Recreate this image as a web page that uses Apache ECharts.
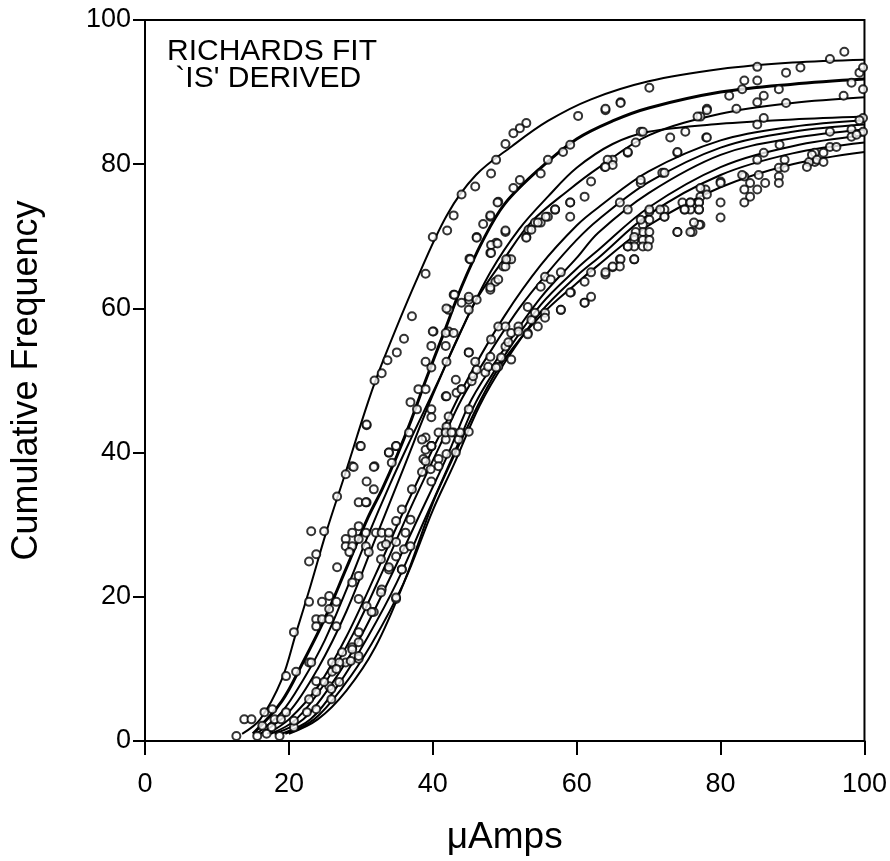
<!DOCTYPE html>
<html>
<head>
<meta charset="utf-8">
<script src="https://cdn.jsdelivr.net/npm/echarts@6/dist/echarts.min.js"></script>
<style>html,body{margin:0;padding:0;background:#fff;}#c{width:890px;height:861px;}</style>
</head>
<body>
<div id="c"></div>
<script>
var xTicks = [0, 20, 40, 60, 80, 100];
var yTicks = [0, 20, 40, 60, 80, 100];
var xTitle = 'μAmps';
var yTitle = 'Cumulative Frequency';
var noteLines = ['RICHARDS FIT', " `IS' DERIVED"];

var fit1 = [[13.5,1],[16,3],[19,8.5],[21,15],[23,21.5],[25.2,29],[27.8,37],[31,47],[33,52.5],[37.6,63.6],[42,73],[46,78.5],[51,82.5],[56,86],[62,89],[70,91.5],[80,93.2],[90,94.1],[100,94.5]];
var fit2 = [[15,1],[19,5.5],[22,11],[25,17],[28,24],[31,31],[33,35],[35,39.5],[37,44.5],[39,50],[41.5,56.5],[44,63],[47,69.5],[50,74.5],[55,79.5],[60,83.5],[65,86],[70,87.8],[80,90],[90,91.1],[100,91.8]];
var fit3 = [[15.5,1],[19,4],[22,8.5],[25,14],[28,21],[31,28.5],[34,35.5],[37,42],[40.8,50],[43.5,56],[46.3,61.6],[50,67],[53.7,72],[59,76.5],[63,79.5],[70,84],[80,87],[90,88.5],[100,89.3]];
var fit4 = [[16,1],[20,4],[24,10],[28,18],[32,28],[36,38],[40,48],[44,57],[48,65],[52,71],[56,75.5],[60,79.5],[65,82.8],[70,84.5],[80,85.6],[90,86.2],[100,86.6]];
var fit5 = [[17,1],[20,3],[24,7.5],[28,14.5],[32,23],[36,32],[40,40.5],[42,44.5],[45,50.5],[50,59],[55,66],[60,71.5],[63,74],[70,79],[80,83.3],[90,85.2],[100,86.1]];
var fit6 = [[17.5,1],[21,3],[25,8],[29,15],[33,23.5],[37,32.5],[41,41],[44,47.4],[48,54],[52,60],[56,65],[60,69.5],[63,72.3],[70,77.5],[80,82.3],[90,84.5],[100,85.5]];
var fit7 = [[18,1],[22,3],[26,8],[30,14.5],[34,22.5],[38,31],[42,39.5],[45.4,47.4],[50,54.5],[55,61.5],[60,67],[63,70.5],[70,76],[80,81.3],[90,83.6],[100,84.8]];
var fit8 = [[19,1],[23,3],[27,8],[31,14.5],[35,22],[39,31],[43,40],[46,47],[50,53.5],[55,60.5],[60,65.5],[63,68.1],[70,74],[80,79.6],[90,82.5],[100,84]];
var fit9 = [[19.5,1],[23.5,3],[27.5,7.5],[31.5,13.5],[36,22],[40,32],[43,38.5],[46.5,46.5],[50,52.5],[55,59.5],[60,64.5],[63,67],[70,73],[80,78.5],[90,81.5],[100,83]];
var fit10 = [[20,1],[24,3],[28,7],[32,13],[36,22],[40,33],[42,37.5],[46.7,47.4],[50,53],[55,59],[60,63.5],[63,66],[70,71.5],[80,76.8],[90,80],[100,81.7]];

var ptsUpper = [[97.2,95.6],[95.2,94.6],[91.1,93.4],[85.1,93.5],[89.1,92.7],[83.3,91.6],[85.1,91.6],[83,90.4],[88.1,90.4],[81.2,89.5],[86,89.5],[85.1,88.6],[89.1,88.5],[82.2,87.7],[78.1,87.7],[77.2,86.6],[97.1,89.5],[98.2,91.3],[99.3,92.7],[99.8,93.4],[99.8,90.4],[86,86.4],[85.1,85.5],[78,83.7],[95.2,84.5],[99.8,86.4],[99.8,84.5],[99.3,86.1],[98.2,84.8],[98.2,83.8],[88.2,82.7],[86,81.6],[85.1,80.6],[95.2,82.4],[96.1,82.4],[94.3,81.6],[93.1,81.6],[93.1,80.3],[92.3,80.3],[98.9,84.1],[92.7,81.3],[93.4,80.6],[94.3,80.3],[92,79.6],[88.9,80.6],[88.1,79.5],[88.9,79.5],[88.1,78.3],[88.1,77.4],[85.3,78.5],[83.3,78.3],[84.1,77.4],[83.3,76.5],[85.1,76.5],[86.2,77.4],[84.1,75.5],[83.3,74.7],[80,77.6],[80,74.7],[80,72.6],[77.9,76.5],[77.2,75.5],[77,74.7],[77,73.7],[77.2,71.6]];
var ptsMidRight = [[70.1,90.6],[64,87.5],[66.1,88.6],[78.1,87.5],[76.8,86.6],[75.1,84.5],[73,83.7],[68.9,84.5],[67.1,81.6],[74,81.6],[78.1,83.7],[63.9,79.6],[65,80.6],[71.9,78.8],[68.9,77.4],[66,74.7],[70.1,73.4],[72.2,72.7],[70.1,72.3],[69.2,71.6],[69.2,70.6],[70.1,70.6],[68.2,70.6],[68,69.5],[69.2,69.5],[70.1,69.5],[67.1,68.6],[68,68.6],[69.2,68.6],[68,66.8],[66,66.8],[65,65.7],[64,64.7],[74,70.6],[76.1,70.6],[77,71.6],[77.2,76.7],[78.1,75.8],[74.7,74.7],[75.8,74.7],[77,74.7],[75.8,73.7],[75,73.7],[77,73.7],[72.2,73.7],[80,77.4],[83,78.5]];
var ptsMid = [[60.2,86.7],[64,87.7],[66.1,88.5],[53,85.7],[52.1,85],[51.2,84.3],[50.1,82.8],[48.8,80.6],[48.1,78.7],[45.9,76.9],[44,75.8],[42.9,72.9],[42,70.8],[40,69.9],[59.1,82.7],[58.1,81.7],[56,80.6],[55,78.7],[52.1,77.8],[51.2,76.7],[49.1,74.8],[48,72.7],[47,71.7],[46.1,69.9],[48.8,69.1],[48,67.7],[50.1,70.6],[45.1,66.9],[50.5,66.8],[49.8,65.8],[48.7,63.7],[48,62.6],[45,61.2],[42.9,61.9],[42.2,59.8],[40.1,56.8],[42.2,56.8],[62,77.6],[61.1,75.5],[59.1,74.7],[59.1,72.7],[57,73.7],[56,72.7],[55,71.9],[54.2,71.9],[53.3,70.9],[53,69.9],[64.3,80.6],[65,79.9],[64,79.6],[67.1,81.7],[68.2,83],[69.2,84.5],[74,81.7],[72.2,78.8],[68.9,77.8],[67.1,73.7],[70.1,73.7],[68.9,72.3],[68,69.9],[67.1,68.6],[69.9,68.6],[68,66.8],[66.1,66.8],[66,65.8],[65,65.8],[64,65],[74,70.6],[75.8,70.6],[76.3,71.9],[75,73.7],[75.8,74.7],[72.2,72.7],[71.6,73.7],[62,65],[61.1,63.7],[62,61.6],[61.1,60.8],[57.8,59.8],[59.2,62.2]];
var ptsCentre = [[39,64.8],[37.1,58.9],[36,55.8],[35,53.9],[33.7,52.8],[32.9,51],[31.9,50],[30.8,43.8],[29.9,40.9],[28.8,38.1],[31.9,38.1],[49,74.7],[48,72.9],[50.1,70.8],[46.1,69.8],[48.1,68.8],[49,69],[45.2,66.8],[48.1,67.7],[50.9,66.8],[50.1,65.8],[49.1,64],[48,62.9],[43,61.9],[45,61.6],[46.1,61.2],[44,60.8],[45,59.8],[41.9,60],[40,56.8],[41.8,56.6],[42.9,56.6],[39.8,54.8],[41.8,54.8],[39,52.6],[41.9,52.6],[39.8,51.8],[45,53.9],[45.9,52.6],[38,48.8],[39,48.8],[36.9,47],[37.8,46],[39.8,46],[41.8,47.8],[43.2,50.1],[44,48.8],[45,46],[45.4,49.9],[33.9,40],[34.9,40.9],[36.7,42.8],[39,42.1],[39.8,40.9],[41.9,43.6],[41.8,41.8],[42.9,42.8],[43.2,40],[38.7,39.1],[40.8,39.1],[45,42.9],[49.1,57.5],[48.1,55.7],[50.1,54.7],[48,53.3],[50.9,56.6],[51.9,57.5],[53.2,56.6],[53.7,58.4],[54.6,57.5],[53.2,60.2],[54.2,59.4],[55.6,59.4],[55.6,64.4],[56.4,64],[55,63],[57.8,59.8],[59.1,62.2],[59.1,74.7],[57,73.7],[55.7,72.7],[54.6,71.9],[53.7,70.9],[53,69.8],[50.2,66.8],[50.9,52.9],[49.1,51.9],[47.3,51.1],[45.6,50.6],[43.3,48.3],[42.2,45],[40.8,42.8],[39,40.4],[41.9,39.8],[40.8,38.1],[39.7,37.7],[43.6,41.8],[57.8,65],[45,53.9],[46.1,51.5],[44,48.8],[41.9,47.8],[39.8,44.9],[39.8,40.9],[39.8,36],[41.8,42.8],[42.6,42.8],[43.8,42.8],[47.7,51.9],[48.8,51.8],[49.5,53.2],[50.5,55.3],[51.9,56.8],[53.2,56.4],[55.6,58.7],[61.1,60.8],[50.1,57.5]];
var ptsLower = [[30.8,43.9],[30,40.9],[29,38],[27.9,37],[26.7,33.9],[24.9,29.1],[23.8,25.9],[22.8,24.9],[20.7,15.1],[31.8,38],[30.8,36],[31.8,34.9],[29.7,33.1],[30.8,33.1],[29.7,29.8],[28.8,28.9],[27.9,28],[27.9,27],[28.8,27],[29.7,28],[30.7,28.9],[30.7,27],[32.1,28.9],[32.9,28.9],[33.9,28],[32.9,27],[31.1,26.2],[28.4,26.2],[26.7,24.1],[29.7,22.9],[28.8,22],[33.9,23.8],[35.7,23.8],[34.9,25.6],[33.9,40],[34.9,40.9],[34.3,38.6],[38.5,41.8],[39,38.8],[39.8,40.9],[38.5,37.3],[37.1,34.9],[35.7,32.1],[36.9,30.7],[36.2,28.9],[34.9,27.6],[32.9,21],[34.9,19.7],[31.8,17.9],[30.8,18.7],[29.7,19.7],[25.6,20.1],[24.6,19.3],[25.6,18.3],[26.6,19.3],[23.8,16.9],[24.6,16.9],[25.6,16.9],[23.8,15.9],[26.6,15.9],[29.7,15.1],[28.8,13],[27.4,12.3],[29.7,11.4],[26,10.9],[22.8,10.9],[21,9.6],[19.6,9],[27.9,10.9],[25.6,7.6],[27,8.2],[23.8,8.3],[23.1,29.1]];
var ptsBottom = [[12.7,0.7],[13.8,3],[14.8,3],[15.6,0.7],[16.9,1],[18.7,0.7],[17.6,1.9],[16.3,2.1],[18,3],[18.9,3],[20.7,1.9],[20.7,2.8],[19.6,4],[16.6,4],[17.7,4.4],[22.5,4],[23.8,4.4],[22.8,5.8],[23.8,6.8],[25.9,5.8],[25.9,7.2],[24.9,8.2],[23.1,10.9],[26,9.6],[27,10.9],[28.6,11.1],[29.7,11.8],[29.7,13.7],[28.8,12.7],[26.6,10],[22.8,19.3],[31.5,17.9],[32.8,20.6],[34.9,19.9],[32.8,25.2],[35.7,23.8],[33.9,24.1],[36,26.6],[33.5,27.3],[33.9,28.9],[36.9,27],[34.9,30.5],[30.7,33.1]];

var fits = [fit1, fit2, fit3, fit4, fit5, fit6, fit7, fit8, fit9, fit10];
var points = [].concat(ptsUpper, ptsMidRight, ptsMid, ptsCentre, ptsLower, ptsBottom);

var chart = echarts.init(document.getElementById('c'), null, {renderer: 'canvas'});
var FONT = 'Liberation Sans';
var series = fits.map(function (d, i) {
  return {
    type: 'line', data: d, smooth: 0.35, symbol: 'none', silent: true,
    lineStyle: {color: '#000', width: i === 1 ? 3 : 2}, z: 3
  };
});
series.push({
  type: 'scatter', data: points, symbol: 'circle', symbolSize: 8,
  itemStyle: {color: '#fff', borderColor: '#000', borderWidth: 2}, z: 4
});

chart.setOption({
  backgroundColor: '#fff',
  animation: false,
  grid: {left: 145, right: 22, top: 20, bottom: 119, show: true, borderColor: '#000', borderWidth: 2, backgroundColor: 'transparent'},
  xAxis: {
    type: 'value', min: xTicks[0], max: xTicks[xTicks.length - 1], interval: 20,
    name: xTitle, nameLocation: 'middle', nameGap: 78,
    nameTextStyle: {fontFamily: FONT, fontSize: 37, color: '#000'},
    axisLine: {show: true, onZero: false, lineStyle: {color: '#000', width: 2}},
    axisTick: {show: true, inside: false, length: 14, lineStyle: {color: '#000', width: 2}},
    axisLabel: {fontFamily: FONT, fontSize: 27, color: '#000', margin: 30},
    splitLine: {show: false}
  },
  yAxis: {
    type: 'value', min: yTicks[0], max: yTicks[yTicks.length - 1], interval: 20,
    name: yTitle, nameLocation: 'middle', nameGap: 100, nameRotate: 90,
    nameTextStyle: {fontFamily: FONT, fontSize: 36, color: '#000'},
    axisLine: {show: true, onZero: false, lineStyle: {color: '#000', width: 2}},
    axisTick: {show: true, inside: false, length: 12, lineStyle: {color: '#000', width: 2}},
    axisLabel: {fontFamily: FONT, fontSize: 27, color: '#000', margin: 14},
    splitLine: {show: false}
  },
  graphic: [{
    type: 'text', left: 167, top: 37, z: 10,
    style: {text: noteLines.join('\n'), fontFamily: FONT, fontSize: 30, lineHeight: 27, fill: '#000'}
  }],
  series: series
});
</script>
</body>
</html>
